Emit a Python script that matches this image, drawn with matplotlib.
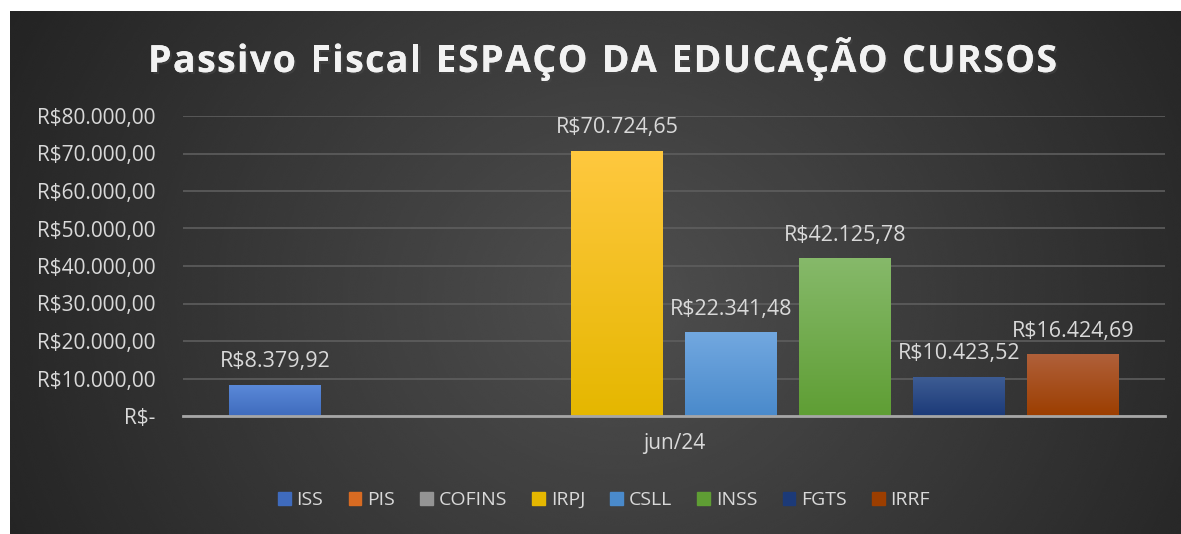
import matplotlib.pyplot as plt
import matplotlib.colors as mcolors
import matplotlib.patheffects as pe
import numpy as np

plt.rcParams['font.family'] = ['Open Sans', 'DejaVu Sans']

categories = ["ISS", "PIS", "COFINS", "IRPJ", "CSLL", "INSS", "FGTS", "IRRF"]
values = [8379.92, 0, 0, 70724.65, 22341.48, 42125.78, 10423.52, 16424.69]
top_colors = ["#5b8ad9", "#f39154", "#b9b9b9", "#ffc83f", "#72a8e0", "#86b96a", "#3e5d94", "#b0603a"]
bot_colors = ["#3f6bbd", "#d86b22", "#949494", "#e5b700", "#4a8acb", "#5f9e34", "#1c3a78", "#9c3e00"]
yticks = [0, 10000, 20000, 30000, 40000, 50000, 60000, 70000, 80000]
title = "Passivo Fiscal ESPAÇO DA EDUCAÇÃO CURSOS"


def brl(v):
    if v == 0:
        return "R$-"
    s = f"{v:,.2f}".replace(",", "X").replace(".", ",").replace("X", ".")
    return "R$" + s


W, H = 1181, 534
fig = plt.figure(figsize=(W / 100, H / 100), dpi=100)
fig.patch.set_facecolor("white")

# dark panel with radial gradient
bg = fig.add_axes([10 / W, 0, 1 - 10 / W, 1 - 11 / H])
bg.set_axis_off()
yy, xx = np.mgrid[0:1:300j, 0:1:600j]
r = np.sqrt(((xx - 0.52) * 1.0) ** 2 + ((yy - 0.55) * 0.5) ** 2) / 0.62
shade = 0.31 - 0.18 * np.clip(r, 0, 1)
bg.imshow(shade, cmap="gray", vmin=0, vmax=1, aspect="auto",
          extent=[0, 1, 0, 1], interpolation="bicubic")
bg.set_xlim(0, 1)
bg.set_ylim(0, 1)

ax = fig.add_axes([183 / W, 1 - 416 / H, (1165 - 183) / W, 300 / H])
ax.set_facecolor("none")
x = np.arange(len(categories))
bars = ax.bar(x, values, width=0.807, color=bot_colors, zorder=3)

# vertical gradient fill for each bar
for b, c1, c2 in zip(bars, top_colors, bot_colors):
    if b.get_height() == 0:
        continue
    grad = np.linspace(0, 1, 100).reshape(-1, 1, 1)
    img = np.array(mcolors.to_rgb(c1)) * (1 - grad) + np.array(mcolors.to_rgb(c2)) * grad
    x0 = b.get_x()
    im = ax.imshow(img, aspect="auto", extent=[x0, x0 + b.get_width(), 0, b.get_height()],
                   origin="upper", zorder=4)
    im.set_clip_path(b)

ax.set_xlim(-0.807, 7.807)
ax.set_ylim(0, 80000)
ax.set_yticks(yticks)
ax.set_yticklabels([brl(v) for v in yticks])
ax.set_xticks([3.5])
ax.set_xticklabels(["jun/24"])
ax.tick_params(axis="both", length=0, colors="#d9d9d9", labelsize=15)
ax.tick_params(axis="x", pad=12)
ax.tick_params(axis="y", pad=20)
ax.yaxis.grid(True, color="#5e5e5e", linewidth=1.2, zorder=0)
for s in ["top", "right", "left"]:
    ax.spines[s].set_visible(False)
ax.spines["bottom"].set_color("#a6a6a6")
ax.spines["bottom"].set_linewidth(2)
ax.spines["bottom"].set_zorder(5)

for xi, v in zip(x, values):
    if v > 0:
        ax.annotate(brl(v), (xi, v), xytext=(0, 9), textcoords="offset points",
                    ha="center", va="bottom", color="#d9d9d9", fontsize=15.5)

# letter-spaced title, placed char by char
renderer = fig.canvas.get_renderer()
tfont = dict(color="#f2f2f2", fontsize=27, fontweight="bold", va="baseline",
             path_effects=[pe.withSimplePatchShadow(offset=(1.5, -1.5), alpha=0.5), pe.Normal()])
widths = []
for ch in title:
    t = fig.text(0, 0, ch.replace(" ", "i"), **tfont)
    widths.append(t.get_window_extent(renderer).width)
    t.remove()
x_left, x_right = 148, 1057
gap = (x_right - x_left - sum(widths)) / (len(title) - 1)
cx = x_left
for ch, w in zip(title, widths):
    if ch != " ":
        fig.text(cx / W, 1 - 72 / H, ch, **tfont)
    cx += w + gap

handles = [plt.Rectangle((0, 0), 1, 1, color=c) for c in bot_colors]
fig.legend(handles, categories, loc="center", bbox_to_anchor=(604 / W, 1 - 500 / H),
           ncol=8, frameon=False, fontsize=14, labelcolor="#d9d9d9",
           handlelength=0.65, handleheight=0.65, handletextpad=0.3, columnspacing=1.3)

fig.savefig("out.png", dpi=100)
